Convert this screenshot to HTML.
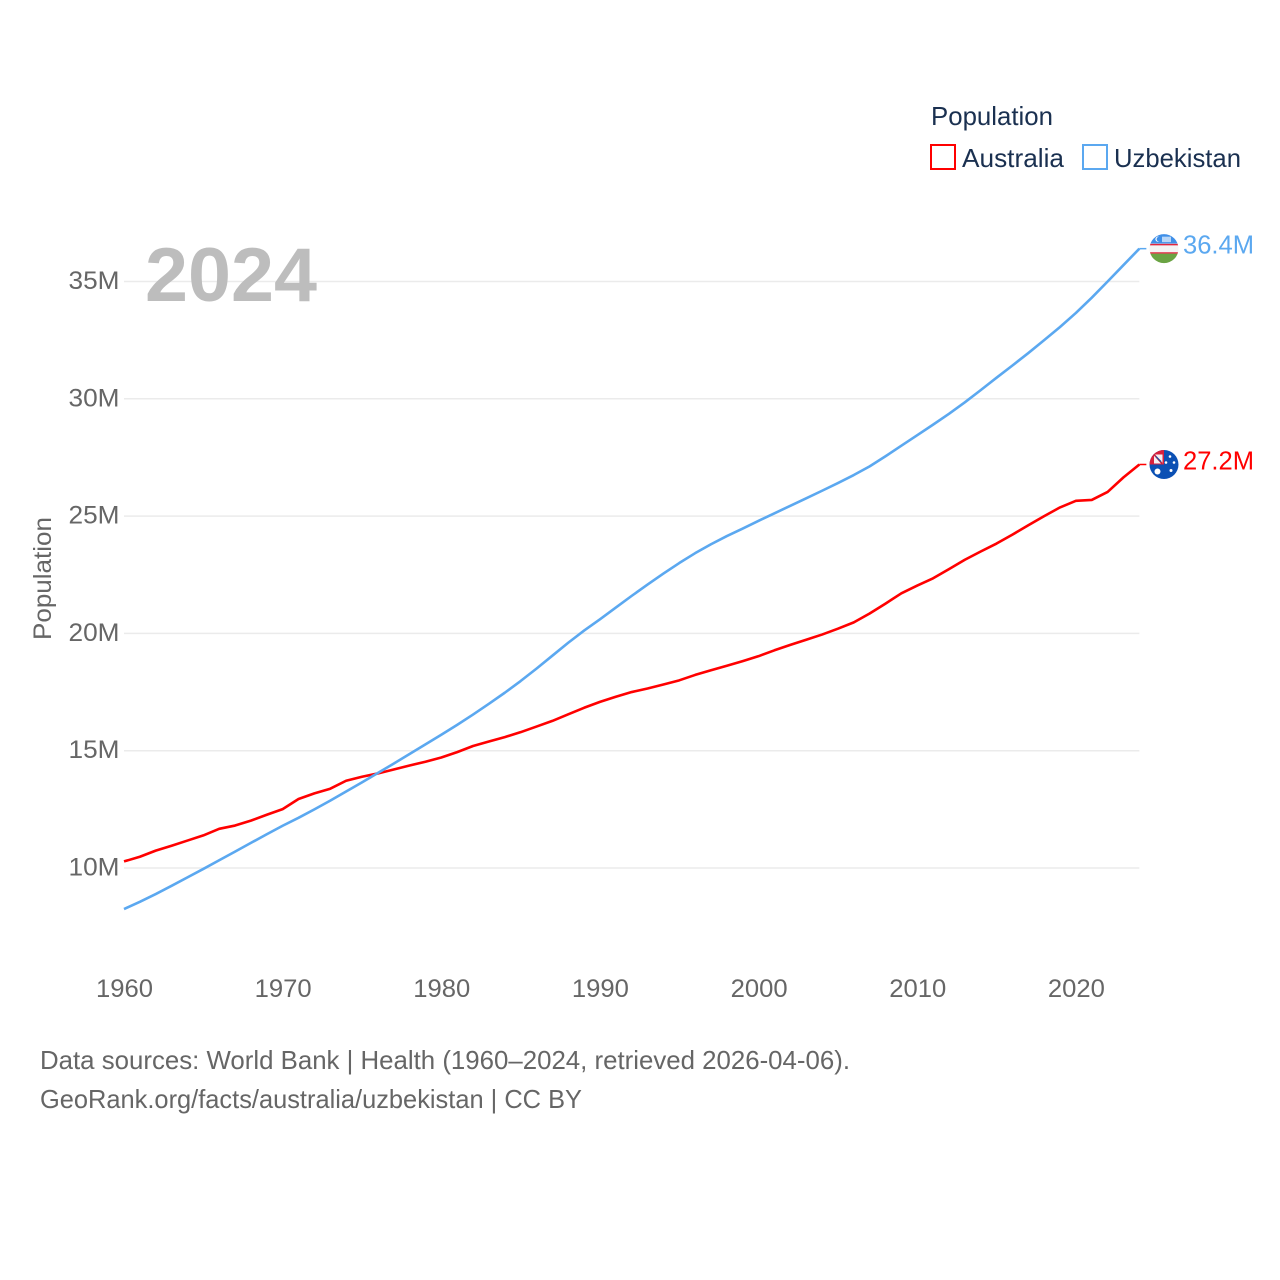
<!DOCTYPE html>
<html lang="en">
<head>
<meta charset="utf-8">
<title>Population: Australia and Uzbekistan</title>
<style>
html,body{margin:0;padding:0;background:#fff;width:1280px;height:1280px;overflow:hidden}
svg{display:block}
text{font-family:"Liberation Sans",sans-serif}
</style>
</head>
<body>
<svg id="chart" width="1280" height="1280" viewBox="0 0 1280 1280" xmlns="http://www.w3.org/2000/svg">
<defs>
<clipPath id="clip-uz"><circle cx="0" cy="0" r="14.5"/></clipPath>
<clipPath id="clip-au"><circle cx="0" cy="0" r="14.5"/></clipPath>
</defs>
<g id="grid"></g>
<text x="145" y="301" font-size="76" font-weight="700" fill="#bdbdbd" textLength="172" lengthAdjust="spacingAndGlyphs">2024</text>
<g id="yticks"></g>
<g id="xticks"></g>
<text transform="translate(51,640) rotate(-90)" font-size="25" fill="#666" textLength="123" lengthAdjust="spacingAndGlyphs">Population</text>
<g id="series"></g>

<g id="legend">
<text x="931" y="125" font-size="26" fill="#1a3050" textLength="122" lengthAdjust="spacingAndGlyphs">Population</text>
<g>
<rect x="931" y="145" width="24" height="24" fill="#fff" stroke="#ff0000" stroke-width="2"/>
<text x="962" y="167" font-size="26" fill="#1a3050" textLength="102" lengthAdjust="spacingAndGlyphs">Australia</text>
</g>
<g>
<rect x="1083" y="145" width="24" height="24" fill="#fff" stroke="#5ba8f0" stroke-width="2"/>
<text x="1114" y="167" font-size="26" fill="#1a3050" textLength="127" lengthAdjust="spacingAndGlyphs">Uzbekistan</text>
</g>
</g>

<g id="flag-uz" clip-path="url(#clip-uz)">
<rect x="-15" y="-15" width="30" height="10" fill="#3f8fe8"/>
<rect x="-15" y="-5" width="30" height="10" fill="#f4f4f4"/>
<rect x="-15" y="-4.8" width="30" height="1.5" fill="#e0263f"/>
<rect x="-15" y="3.6" width="30" height="1.5" fill="#e0263f"/>
<rect x="-15" y="5" width="30" height="10" fill="#6aa343"/>
<circle cx="-6" cy="-9.5" r="2.6" fill="#fff"/>
<circle cx="-5" cy="-9.5" r="2.4" fill="#3f8fe8"/>
<rect x="-2" y="-12" width="9" height="5.5" fill="#b8d6f7"/>
</g>
<g id="flag-au" clip-path="url(#clip-au)">
<rect x="-15" y="-15" width="30" height="30" fill="#0b50b4"/>
<rect x="-15" y="-15" width="15" height="15" fill="#d8203c"/>
<rect x="-10" y="-10" width="8.5" height="9" fill="#f4f0f2"/>
<path d="M-10-10L-2-1" stroke="#c0203c" stroke-width="1.6"/>
<path d="M-8-8L-3-3" stroke="#1d4fa5" stroke-width="1.2"/>
<circle cx="-6.5" cy="7" r="3" fill="#fff"/>
<circle cx="6" cy="-8" r="1.3" fill="#fff"/>
<circle cx="2" cy="-2" r="1.3" fill="#fff"/>
<circle cx="10" cy="-2" r="1.3" fill="#fff"/>
<circle cx="7" cy="6" r="1.5" fill="#fff"/>
</g>
<g id="end-labels"></g>

<text x="40" y="1069" font-size="26" fill="#666" textLength="810" lengthAdjust="spacingAndGlyphs">Data sources: World Bank | Health (1960–2024, retrieved 2026-04-06).</text>
<text x="40" y="1108" font-size="26" fill="#666" textLength="542" lengthAdjust="spacingAndGlyphs">GeoRank.org/facts/australia/uzbekistan | CC BY</text>
</svg>
<script>
const years = [1960,1961,1962,1963,1964,1965,1966,1967,1968,1969,1970,1971,1972,1973,1974,1975,1976,1977,1978,1979,1980,1981,1982,1983,1984,1985,1986,1987,1988,1989,1990,1991,1992,1993,1994,1995,1996,1997,1998,1999,2000,2001,2002,2003,2004,2005,2006,2007,2008,2009,2010,2011,2012,2013,2014,2015,2016,2017,2018,2019,2020,2021,2022,2023,2024];
const australia = [10.28,10.48,10.74,10.95,11.17,11.39,11.67,11.81,12.02,12.27,12.51,12.94,13.18,13.38,13.72,13.89,14.03,14.2,14.37,14.53,14.71,14.94,15.2,15.39,15.58,15.79,16.03,16.27,16.55,16.83,17.08,17.3,17.5,17.65,17.82,18.0,18.23,18.43,18.62,18.82,19.03,19.28,19.51,19.73,19.95,20.2,20.47,20.85,21.27,21.71,22.04,22.35,22.74,23.14,23.49,23.83,24.21,24.61,25.0,25.37,25.65,25.69,26.03,26.65,27.2];
const uzbekistan = [8.25,8.56,8.89,9.24,9.6,9.96,10.33,10.7,11.07,11.44,11.8,12.14,12.5,12.87,13.26,13.65,14.05,14.45,14.86,15.27,15.68,16.1,16.54,17.0,17.47,17.97,18.5,19.05,19.6,20.12,20.6,21.1,21.6,22.08,22.55,23.0,23.42,23.8,24.15,24.47,24.8,25.12,25.44,25.76,26.08,26.41,26.75,27.12,27.55,28.0,28.45,28.9,29.36,29.85,30.37,30.9,31.42,31.95,32.5,33.06,33.66,34.31,35.0,35.7,36.4];
const yTickValues = [10,15,20,25,30,35];
const xTickValues = [1960,1970,1980,1990,2000,2010,2020];
const NS = 'http://www.w3.org/2000/svg';
const xScale = y => 124 + (y - 1960) * 15.865;
const yScale = v => 868 - (v - 10) * 23.46;
function mk(parent, tag, attrs, text) {
  const el = document.createElementNS(NS, tag);
  for (const k in attrs) el.setAttribute(k, attrs[k]);
  if (text !== undefined) el.textContent = text;
  parent.appendChild(el);
  return el;
}
const gridG = document.getElementById('grid');
const yG = document.getElementById('yticks');
yTickValues.forEach(v => {
  const ln = mk(gridG, 'line', {x1: xScale(1960), x2: xScale(2024), y1: yScale(v), y2: yScale(v), stroke: '#ebebeb', 'stroke-width': 1.5});
  
  
  const t = mk(yG, 'text', {x: 119.5, y: yScale(v) + 7.5, 'text-anchor': 'end', 'font-size': 25, fill: '#666', textLength: 51, lengthAdjust: 'spacingAndGlyphs'}, v + 'M');
  
  
});
const xG = document.getElementById('xticks');
xTickValues.forEach(y => {
  const t = mk(xG, 'text', {x: xScale(y) - 28, y: 997, 'font-size': 25, fill: '#666', textLength: 57, lengthAdjust: 'spacingAndGlyphs'}, String(y));
  
  
});
const seriesG = document.getElementById('series');
function drawSeries(vals, color, name) {
  const pts = vals.map((v, i) => xScale(years[i]).toFixed(2) + ',' + yScale(v).toFixed(2));
  const p = mk(seriesG, 'polyline', {points: pts.join(' '), fill: 'none', stroke: color, 'stroke-width': 2.6, 'stroke-linejoin': 'round'});
  
  
  const last = vals[vals.length - 1];
  const c = mk(seriesG, 'line', {x1: xScale(2024), x2: xScale(2024) + 7, y1: yScale(last), y2: yScale(last), stroke: color, 'stroke-width': 1.5});
  
  
  const t = mk(document.getElementById('end-labels'), 'text', {x: 1183, y: yScale(last) + 5, 'font-size': 25.5, fill: color, textLength: 71, lengthAdjust: 'spacingAndGlyphs'}, last.toFixed(1) + 'M');
  
  
  return last;
}
const auLast = drawSeries(australia, '#ff0000', 'australia');
const uzLast = drawSeries(uzbekistan, '#5ba8f0', 'uzbekistan');
document.getElementById('flag-uz').setAttribute('transform', 'translate(1164,' + yScale(uzLast) + ')');
document.getElementById('flag-au').setAttribute('transform', 'translate(1164,' + yScale(auLast) + ')');
</script>
</body>
</html>
